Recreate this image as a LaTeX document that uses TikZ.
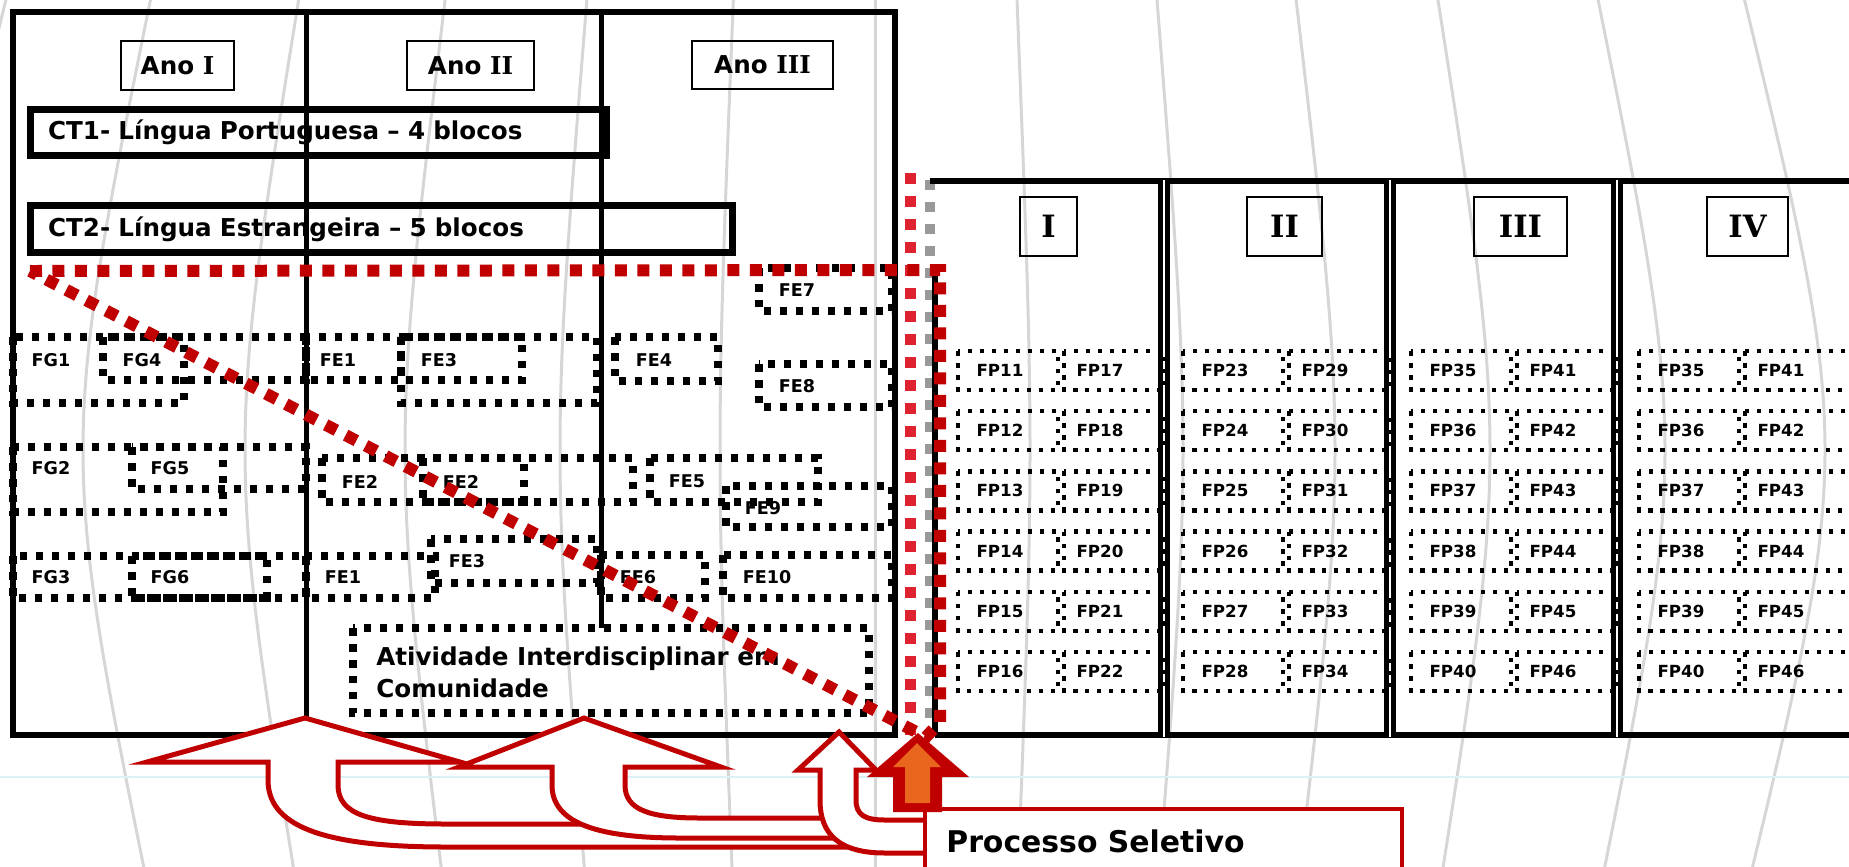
\documentclass[tikz,border=0pt]{standalone}
\usepackage{fontspec}
\setmainfont{DejaVu Sans}
\newfontfamily\romfont{DejaVu Serif}
\usetikzlibrary{calc}
\definecolor{DarkRed}{HTML}{C00000}
\definecolor{LightRed}{HTML}{DE2230}
\definecolor{Pumpkin}{HTML}{E9661F}
\definecolor{Meridian}{HTML}{D6D6D6}
\definecolor{Horizon}{HTML}{DCF1F5}

\begin{document}
\begin{tikzpicture}[x=0.02cm, y=-0.02cm,
    meridian/.style={draw=Meridian, line width=0.06cm},
    frame/.style={draw=black, line width=0.12cm},
    colline/.style={draw=black, line width=0.11cm},
    divider/.style={draw=black, line width=0.1cm, double=white, double distance=0.04cm},
    tagbox/.style={draw=black, line width=0.045cm, inner sep=0pt,
                   font=\bfseries\fontsize{14}{16}\selectfont},
    numbox/.style={draw=black, line width=0.045cm, inner sep=0pt,
                   font=\romfont\bfseries\fontsize{17.5}{20}\selectfont},
    ctbox/.style={draw=black, line width=0.13cm, inner sep=0pt, align=left,
                  font=\bfseries\fontsize{14}{16}\selectfont},
    fgbox/.style={draw=black, line width=0.15cm, dash pattern=on 0.15cm off 0.17cm},
    fpbox/.style={draw=black, line width=0.09cm, dash pattern=on 0.09cm off 0.15cm},
    fglbl/.style={inner sep=0pt, font=\bfseries\fontsize{10}{12}\selectfont},
    fplbl/.style={inner sep=0pt, font=\bfseries\fontsize{9.5}{11}\selectfont},
    bigtxt/.style={anchor=base west, inner sep=0pt, font=\bfseries\fontsize{14}{16}\selectfont},
    reddots/.style={draw=DarkRed, line width=0.24cm, dash pattern=on 0.24cm off 0.21cm},
    lightdots/.style={draw=LightRed, line width=0.22cm, dash pattern=on 0.22cm off 0.24cm},
    graydash/.style={draw=black!40, line width=0.2cm, dash pattern=on 0.2cm off 0.24cm},
    uarrow/.style={draw=DarkRed, fill=white, line width=0.1cm, line join=miter},
    selbox/.style={draw=DarkRed, fill=white, line width=0.08cm}
  ]
  \useasboundingbox (0,0) rectangle (1849,866);

  % background globe
  \foreach \m in {-75,83,245,405,560,720,875,1030,1183,1335,1490,1665,1825}{
    \pgfmathsetmacro\xt{877+(\m-877)*0.91}
    \pgfmathsetmacro\xc{(8*\m-2*\xt)/6}
    \draw[meridian] (\xt,-20) .. controls (\xc,450) .. (\xt,920);
  }
  \draw[Horizon, line width=0.05cm] (0,777) -- (1849,777);

  % years I-III
  \draw[frame] (13,12) rectangle (895,735);
  \draw[colline] (306.5,12) -- (306.5,735);
  \draw[colline] (601.5,12) -- (601.5,628);
  \node[tagbox, minimum width=2.26cm, minimum height=0.98cm] (ano1) at (177.5,65.5) {Ano {\romfont I}};
  \node[tagbox, minimum width=2.54cm, minimum height=0.98cm] (ano2) at (470.5,65.5) {Ano {\romfont II}};
  \node[tagbox, minimum width=2.82cm, minimum height=0.96cm] (ano3) at (762.5,65) {Ano {\romfont III}};
  \node[ctbox, minimum width=11.52cm, minimum height=0.92cm, text width=10.82cm] (ct1) at (318.5,132.5) {CT1- Língua Portuguesa – 4 blocos};
  \node[ctbox, minimum width=14.04cm, minimum height=0.94cm, text width=13.34cm] (ct2) at (381.5,229) {CT2- Língua Estrangeira – 5 blocos};

  % FG / FE blocks
  \draw[fgbox] (401,337) rectangle (597,403);
  \foreach \xa/\ya/\xb/\yb/\lx/\ly/\txt [count=\i] in {
      13/337/184/403/51/360/FG1, 103/337/306/380/142/360/FG4,
      306/337/401/380/338/360/FE1, 401/337/522/380/439/360/FE3,
      615/337/718/381/654/360/FE4, 759/268/892/311/797/290/FE7,
      759/364/892/407/797/386/FE8,
      13/447/223/512/51/468/FG2, 132/447/306/489/170/468/FG5,
      322/458/633/502/360/482/FE2, 423/458/524/502/461/482/FE2,
      650/458/818/502/687/481/FE5, 726/486/892/527/763/508/FE9,
      13/556/306/598/51/577/FG3, 132/556/267/598/170/577/FG6,
      306/556/435/598/343/577/FE1, 431/539/597/583/467/561/FE3,
      601/555/705/598/638/577/FE6, 723/555/892/598/767/577/FE10}{
    \draw[fgbox] (\xa,\ya) rectangle (\xb,\yb);
    \node[fglbl] (blk\i) at (\lx,\ly) {\txt};
  }
  \draw[fgbox] (353,628) rectangle (869,713);
  \node[bigtxt] (atv1) at (376,665) {Atividade Interdisciplinar em};
  \node[bigtxt] (atv2) at (376,697) {Comunidade};

  % periods I-IV
  \draw[graydash] (929.5,180) -- (929.5,736);
  \draw[frame] (929.5,180.5) -- (1860,180.5);
  \draw[frame] (934.5,267) -- (934.5,735);
  \draw[frame] (934.5,735) -- (1860,735);
  \foreach \x in {1164,1390,1617}
    \draw[divider] (\x,180) -- (\x,737);
  \node[numbox, minimum width=1.14cm, minimum height=1.18cm] (per1) at (1048.5,226.5) {I};
  \node[numbox, minimum width=1.5cm, minimum height=1.18cm] (per2) at (1284.5,226.5) {II};
  \node[numbox, minimum width=1.86cm, minimum height=1.18cm] (per3) at (1520.5,226.5) {III};
  \node[numbox, minimum width=1.62cm, minimum height=1.18cm] (per4) at (1747.5,226.5) {IV};
  \foreach \L/\R/\n/\cn in {958/1164/11/a, 1183/1390/23/b, 1411/1617/35/c, 1639/1870/35/d}{
    \foreach \r in {0,...,5}{
      \pgfmathsetmacro\T{351+60.2*\r}
      \pgfmathtruncatemacro\na{\n+\r}
      \pgfmathtruncatemacro\nb{\n+6+\r}
      \draw[fpbox] (\L,\T) rectangle (\L+100,\T+39);
      \draw[fpbox] (\L+106,\T) rectangle (\R,\T+39);
      \node[fplbl] (fp\cn\na) at (\L+42,\T+19.5) {FP\na};
      \node[fplbl] (fp\cn\nb) at (\L+142,\T+19.5) {FP\nb};
    }
  }

  % dotted markers
  \draw[lightdots] (910,173) -- (910,735);
  \draw[reddots] (30,271) -- (940,270) -- (940,722) -- (926,737) -- cycle;

  % curved arrows
  \draw[uarrow] (147,762) -- (305,718) -- (460,762) -- (338,762) -- (338,785)
     .. controls (338,815) and (370,824) .. (446,824) -- (850,824) -- (850,847)
     -- (446,847) .. controls (320,847) and (268,825) .. (268,780) -- (268,762) -- cycle;
  \draw[uarrow] (459,767) -- (584,718) -- (721,767) -- (625,767) -- (625,785)
     .. controls (625,810) and (650,818) .. (700,818) -- (850,818) -- (850,838)
     -- (680,838) .. controls (590,838) and (552,820) .. (552,785) -- (552,767) -- cycle;
  \draw[uarrow] (798,770) -- (839,732) -- (876,770) -- (856,770) -- (856,800)
     .. controls (856,815) and (865,820) .. (885,820) -- (935,820) -- (935,853)
     -- (885,853) .. controls (840,853) and (820,835) .. (820,800) -- (820,770) -- cycle;

  \draw[selbox] (925,809) rectangle (1402,890);
  \node[anchor=base west, inner sep=0pt, font=\bfseries\fontsize{17}{20}\selectfont] (sel) at (946,852) {Processo Seletivo};
  \fill[DarkRed] (867,777) -- (918,733) -- (969,777) -- (942,777) -- (942,812) -- (893,812) -- (893,777) -- cycle;
  \fill[Pumpkin] (893,767) -- (917,743) -- (941,767) -- (930,767) -- (930,803) -- (905,803) -- (905,767) -- cycle;
\end{tikzpicture}
\end{document}
